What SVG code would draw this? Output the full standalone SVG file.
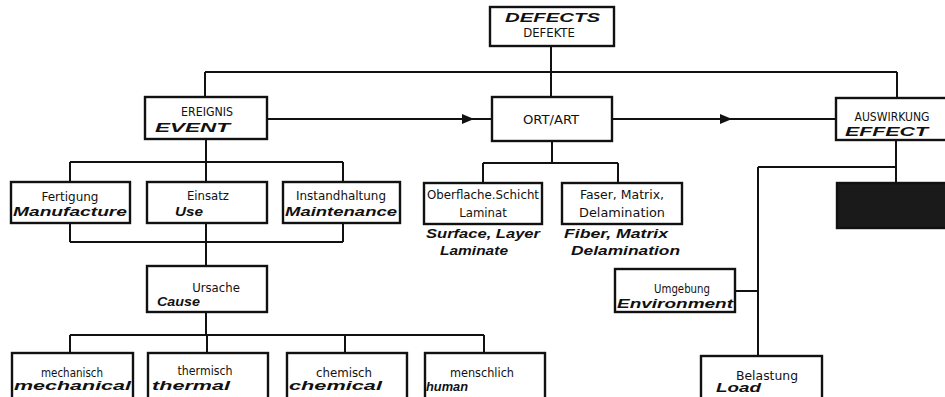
<svg xmlns="http://www.w3.org/2000/svg" width="945" height="397" viewBox="0 0 945 397">
<style>
.box{fill:#fff;stroke:#111;stroke-width:2.4}
.ln{fill:none;stroke:#111;stroke-width:2}
.de{font-family:"DejaVu Sans Condensed","Liberation Sans Narrow","Liberation Sans",sans-serif;font-size:13px;fill:#111;text-anchor:middle}
.en{font-family:"Liberation Sans",Arial,sans-serif;font-size:13px;font-weight:bold;font-style:italic;fill:#111}
</style>
<defs>
<marker id="ah" markerWidth="12" markerHeight="10" refX="6" refY="5" orient="auto" markerUnits="userSpaceOnUse">
<path d="M0,0 L12,5 L0,10 Z" fill="#111"/>
</marker>
</defs>
<rect width="945" height="397" fill="#fff"/>
<g id="connectors">
<path class="ln" d="M551,46 V72 M205,72 H897 M205,72 V97 M551,72 V97 M897,72 V98"/>
<path class="ln" d="M267,119 H468" marker-end="url(#ah)"/>
<path class="ln" d="M468,119 H492"/>
<path class="ln" d="M612,119 H726" marker-end="url(#ah)"/>
<path class="ln" d="M726,119 H836"/>
<path class="ln" d="M206,139 V162 M70,162 H343 M70,162 V182 M206,162 V182 M343,162 V182"/>
<path class="ln" d="M70,223 V242 M206,223 V242 M343,223 V242 M70,242 H343 M206,242 V266"/>
<path class="ln" d="M206,312 V335 M70,335 H484 M70,335 V353 M207,335 V353 M345,335 V353 M484,335 V353"/>
<path class="ln" d="M552,141 V163 M483,163 H618 M483,163 V183 M618,163 V183"/>
<path class="ln" d="M896,140 V183 M758,167 H896 M758,167 V356 M735,291 H758"/>
</g>
<g id="defects">
<rect class="box" x="490" y="7" width="124" height="39"/>
<text class="en" x="505" y="22" font-size="14" textLength="95" lengthAdjust="spacingAndGlyphs">DEFECTS</text>
<text class="de" x="549" y="37" font-size="12">DEFEKTE</text>
</g>
<g id="event">
<rect class="box" x="145" y="97" width="122" height="42"/>
<text class="de" x="207" y="116" font-size="11" textLength="52" lengthAdjust="spacingAndGlyphs">EREIGNIS</text>
<text class="en" x="155" y="132" font-size="16" textLength="75" lengthAdjust="spacingAndGlyphs">EVENT</text>
</g>
<g id="ort">
<rect class="box" x="492" y="97" width="120" height="44"/>
<text class="de" x="551" y="124" textLength="56" lengthAdjust="spacingAndGlyphs">ORT/ART</text>
</g>
<g id="effect">
<rect class="box" x="836" y="98" width="112" height="42"/>
<text class="de" x="892" y="121" font-size="11" textLength="75" lengthAdjust="spacingAndGlyphs">AUSWIRKUNG</text>
<text class="en" x="845" y="136" font-size="15" textLength="83" lengthAdjust="spacingAndGlyphs">EFFECT</text>
</g>
<g id="fertigung">
<rect class="box" x="11" y="182" width="119" height="41"/>
<text class="de" x="70" y="201" textLength="57" lengthAdjust="spacingAndGlyphs">Fertigung</text>
<text class="en" x="13" y="216" textLength="114" lengthAdjust="spacingAndGlyphs">Manufacture</text>
</g>
<g id="einsatz">
<rect class="box" x="147" y="182" width="120" height="41"/>
<text class="de" x="208" y="200">Einsatz</text>
<text class="en" x="175" y="216" font-size="15" textLength="28" lengthAdjust="spacingAndGlyphs">Use</text>
</g>
<g id="instandhaltung">
<rect class="box" x="283" y="182" width="117" height="41"/>
<text class="de" x="341" y="200" textLength="90" lengthAdjust="spacingAndGlyphs">Instandhaltung</text>
<text class="en" x="285" y="216" textLength="112" lengthAdjust="spacingAndGlyphs">Maintenance</text>
</g>
<g id="ursache">
<rect class="box" x="147" y="266" width="120" height="46"/>
<text class="de" x="216" y="292">Ursache</text>
<text class="en" x="157" y="306" textLength="43" lengthAdjust="spacingAndGlyphs">Cause</text>
</g>
<g id="mechanisch">
<rect class="box" x="12" y="353" width="121" height="50"/>
<text class="de" x="72" y="377" textLength="62" lengthAdjust="spacingAndGlyphs">mechanisch</text>
<text class="en" x="14" y="390" textLength="117" lengthAdjust="spacingAndGlyphs">mechanical</text>
</g>
<g id="thermisch">
<rect class="box" x="148" y="353" width="120" height="50"/>
<text class="de" x="205" y="375" textLength="55" lengthAdjust="spacingAndGlyphs">thermisch</text>
<text class="en" x="152" y="390" textLength="78" lengthAdjust="spacingAndGlyphs">thermal</text>
</g>
<g id="chemisch">
<rect class="box" x="287" y="353" width="120" height="50"/>
<text class="de" x="344" y="377" textLength="56" lengthAdjust="spacingAndGlyphs">chemisch</text>
<text class="en" x="289" y="390" textLength="93" lengthAdjust="spacingAndGlyphs">chemical</text>
</g>
<g id="menschlich">
<rect class="box" x="425" y="353" width="120" height="50"/>
<text class="de" x="482" y="377" textLength="64" lengthAdjust="spacingAndGlyphs">menschlich</text>
<text class="en" x="426" y="391" textLength="42" lengthAdjust="spacingAndGlyphs">human</text>
</g>
<g id="oberflache">
<rect class="box" x="424" y="183" width="118" height="41"/>
<text class="de" x="483" y="199" textLength="112" lengthAdjust="spacingAndGlyphs">Oberflache.Schicht</text>
<text class="de" x="483" y="217">Laminat</text>
<text class="en" x="426" y="238" textLength="114" lengthAdjust="spacingAndGlyphs">Surface, Layer</text>
<text class="en" x="440" y="255" textLength="68" lengthAdjust="spacingAndGlyphs">Laminate</text>
</g>
<g id="faser">
<rect class="box" x="562" y="183" width="120" height="41"/>
<text class="de" x="622" y="199" textLength="84" lengthAdjust="spacingAndGlyphs">Faser, Matrix,</text>
<text class="de" x="622" y="217" textLength="86" lengthAdjust="spacingAndGlyphs">Delamination</text>
<text class="en" x="564" y="238" textLength="104" lengthAdjust="spacingAndGlyphs">Fiber, Matrix</text>
<text class="en" x="571" y="255" textLength="109" lengthAdjust="spacingAndGlyphs">Delamination</text>
</g>
<g id="blacked">
<rect class="box" x="837" y="183" width="112" height="45" style="fill:#1a1a1a"/>
</g>
<g id="umgebung">
<rect class="box" x="615" y="269" width="120" height="43"/>
<text class="de" x="682" y="293" textLength="56" lengthAdjust="spacingAndGlyphs">Umgebung</text>
<text class="en" x="617" y="308" textLength="116" lengthAdjust="spacingAndGlyphs">Environment</text>
</g>
<g id="belastung">
<rect class="box" x="701" y="356" width="121" height="50"/>
<text class="de" x="767" y="380" textLength="62" lengthAdjust="spacingAndGlyphs">Belastung</text>
<text class="en" x="716" y="392" font-size="12" textLength="45" lengthAdjust="spacingAndGlyphs">Load</text>
</g>
</svg>
